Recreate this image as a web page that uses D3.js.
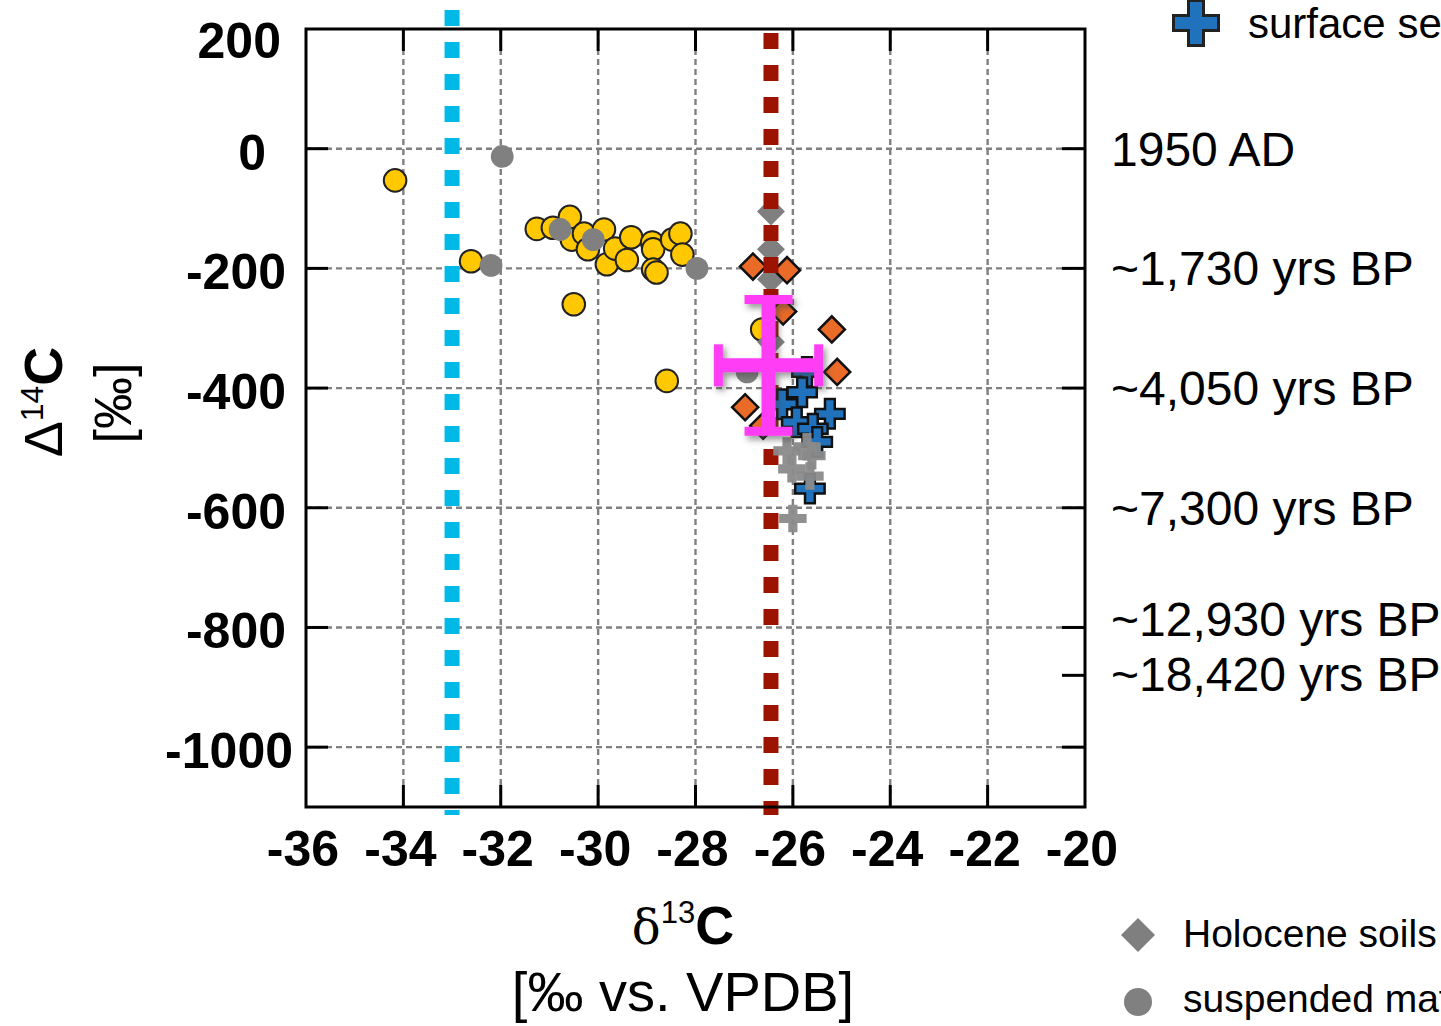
<!DOCTYPE html>
<html>
<head>
<meta charset="utf-8">
<script src="https://cdn.jsdelivr.net/npm/d3@7"></script>
<style>
  body { margin: 0; background: #fff; overflow: hidden; }
  svg { display: block; font-family: "Liberation Sans", Arial, Helvetica, sans-serif; }
</style>
</head>
<body>
<div class="chart"></div>
<script>
// δ13C / Δ14C values
const suspendedYellow = [
  [-34.17, -53], [-32.61, -188], [-30.5, -260], [-28.59, -388],
  [-31.26, -134], [-30.93, -132], [-30.58, -114], [-30.54, -152], [-30.29, -142],
  [-30.21, -168], [-29.88, -135], [-29.82, -193], [-29.65, -167], [-29.41, -186],
  [-29.32, -148], [-28.89, -157], [-28.87, -168], [-28.87, -202], [-28.8, -207],
  [-28.48, -152], [-28.31, -142], [-28.27, -177], [-26.63, -302]
];
const suspendedGray = [
  [-31.97, -13], [-32.2, -195], [-30.78, -135], [-30.1, -152], [-27.97, -200], [-26.94, -373]
];
const soilsGray = [[-26.45, -105], [-26.45, -168], [-26.45, -218], [-26.45, -323]];
const soilsOrange = [
  [-26.82, -197], [-26.12, -203], [-26.2, -272], [-25.2, -302],
  [-25.09, -373], [-26.98, -432], [-26.61, -463]
];
const sedimentsBlue = [
  [-25.71, -373], [-25.81, -407], [-26.22, -427], [-25.24, -443], [-25.92, -457],
  [-25.59, -468], [-25.5, -490], [-25.65, -568]
];
const sedimentsGray = [
  [-26.12, -505], [-25.71, -498], [-25.61, -513], [-26.02, -535], [-25.65, -547], [-26.0, -618]
];
const refLines = [{ x: -33, color: "#00b9e6" }, { x: -26.45, color: "#9c1300" }];
const meanPoint = { x: -26.5, y: -362, dx: 1.03, dy: 110 };

const xTicks = [-36, -34, -32, -30, -28, -26, -24, -22, -20];
const yTicks = [200, 0, -200, -400, -600, -800, -1000];
const ageTicks = [0, -200, -400, -600, -800, -880, -1000];
const ageLabels = ["1950 AD", "~1,730 yrs BP", "~4,050 yrs BP", "~7,300 yrs BP",
  "~12,930 yrs BP", "~18,420 yrs BP", ""];

const W = 1441, H = 1026;
const L = 306, R = 1085, T = 29, B = 807;

const x = d3.scaleLinear().domain([-36, -20]).range([L, R]);
const y = d3.scaleLinear().domain([-1100, 200]).range([B, T]);

const svg = d3.select(".chart").append("svg").attr("width", W).attr("height", H);

const defs = svg.append("defs");
defs.append("filter").attr("id", "shadow").attr("x", "-20%").attr("y", "-20%")
  .attr("width", "150%").attr("height", "150%")
  .append("feDropShadow").attr("dx", 3).attr("dy", 4).attr("stdDeviation", 3)
  .attr("flood-color", "#444").attr("flood-opacity", 0.55);

// grid
const grid = svg.append("g").attr("stroke", "#808080").attr("stroke-width", 2.4)
  .attr("stroke-dasharray", "6,4");
grid.selectAll(".gx").data(xTicks.slice(1, -1)).enter().append("line")
  .attr("x1", d => x(d)).attr("x2", d => x(d)).attr("y1", T).attr("y2", B);
grid.selectAll(".gy").data(yTicks.slice(1)).enter().append("line")
  .attr("x1", L).attr("x2", R).attr("y1", d => y(d)).attr("y2", d => y(d));

// circles
svg.append("g").selectAll("circle").data(suspendedYellow).enter().append("circle")
  .attr("cx", d => x(d[0])).attr("cy", d => y(d[1])).attr("r", 11.3)
  .attr("fill", "#ffc800").attr("stroke", "#222").attr("stroke-width", 2);
svg.append("g").selectAll("circle").data(suspendedGray).enter().append("circle")
  .attr("cx", d => x(d[0])).attr("cy", d => y(d[1])).attr("r", 11.4)
  .attr("fill", "#808080");

// diamonds
svg.append("g").selectAll("path").data(soilsGray).enter().append("path")
  .attr("d", d3.symbol(d3.symbolSquare, 392))
  .attr("transform", d => `translate(${x(d[0])},${y(d[1])}) rotate(45)`)
  .attr("fill", "#7f7f7f");
svg.append("g").selectAll("path").data(soilsOrange).enter().append("path")
  .attr("d", d3.symbol(d3.symbolSquare, 340))
  .attr("transform", d => `translate(${x(d[0])},${y(d[1])}) rotate(45)`)
  .attr("fill", "#ea6a27").attr("stroke", "#111").attr("stroke-width", 2.5);

// reference lines
svg.append("g").selectAll("line").data(refLines).enter().append("line")
  .attr("x1", d => x(d.x)).attr("x2", d => x(d.x))
  .attr("y1", (d, i) => i === 0 ? 10 : 33).attr("y2", 815)
  .attr("stroke", d => d.color).attr("stroke-width", 15)
  .attr("stroke-dasharray", "16,16");

// crosses
svg.append("g").selectAll("path").data(sedimentsBlue).enter().append("path")
  .attr("d", d3.symbol(d3.symbolCross, 480))
  .attr("transform", d => `translate(${x(d[0])},${y(d[1])})`)
  .attr("fill", "#2172bd").attr("stroke", "#111").attr("stroke-width", 2.5);
svg.append("g").selectAll("path").data(sedimentsGray).enter().append("path")
  .attr("d", d3.symbol(d3.symbolCross, 420))
  .attr("transform", d => `translate(${x(d[0])},${y(d[1])})`)
  .attr("fill", "#8a8a8a").attr("opacity", 0.95);

// mean with error bars
const eb = svg.append("g").attr("stroke", "#ff3cf5").attr("filter", "url(#shadow)")
  .attr("stroke-linecap", "butt");
const cx0 = x(meanPoint.x), cy0 = y(meanPoint.y);
eb.append("line").attr("x1", x(meanPoint.x - meanPoint.dx)).attr("x2", x(meanPoint.x + meanPoint.dx))
  .attr("y1", cy0).attr("y2", cy0).attr("stroke-width", 14);
eb.append("line").attr("x1", cx0).attr("x2", cx0)
  .attr("y1", y(meanPoint.y + meanPoint.dy)).attr("y2", y(meanPoint.y - meanPoint.dy))
  .attr("stroke-width", 14);
[meanPoint.x - meanPoint.dx, meanPoint.x + meanPoint.dx].forEach(v => {
  eb.append("line").attr("x1", x(v)).attr("x2", x(v))
    .attr("y1", cy0 - 21).attr("y2", cy0 + 21).attr("stroke-width", 9);
});
[meanPoint.y - meanPoint.dy, meanPoint.y + meanPoint.dy].forEach(v => {
  eb.append("line").attr("x1", cx0 - 24).attr("x2", cx0 + 24)
    .attr("y1", y(v)).attr("y2", y(v)).attr("stroke-width", 9);
});

// frame and inside ticks
svg.append("rect").attr("x", L).attr("y", T).attr("width", R - L).attr("height", B - T)
  .attr("fill", "none").attr("stroke", "#000").attr("stroke-width", 3);
const tk = svg.append("g").attr("stroke", "#000").attr("stroke-width", 3);
xTicks.slice(1, -1).forEach(v => {
  tk.append("line").attr("x1", x(v)).attr("x2", x(v)).attr("y1", B).attr("y2", B - 22);
  tk.append("line").attr("x1", x(v)).attr("x2", x(v)).attr("y1", T).attr("y2", T + 22);
});
yTicks.slice(1).forEach(v => {
  tk.append("line").attr("x1", L).attr("x2", L + 22).attr("y1", y(v)).attr("y2", y(v));
});
ageTicks.forEach(v => {
  tk.append("line").attr("x1", R).attr("x2", R - 23).attr("y1", y(v)).attr("y2", y(v));
});

// tick labels
svg.append("g").selectAll("text").data(xTicks).enter().append("text")
  .attr("x", d => x(d) - 3).attr("y", 866).attr("text-anchor", "middle")
  .attr("font-size", 50).attr("font-weight", "bold")
  .text(d => d);
const yLabelShift = [-5, -20, 0, 0, 0, 0, 7];
svg.append("g").selectAll("text").data(yTicks).enter().append("text")
  .attr("x", (d, i) => 286 + yLabelShift[i])
  .attr("y", d => y(d) + (d === 200 ? 29 : 21)).attr("text-anchor", "end")
  .attr("font-size", 50).attr("font-weight", "bold")
  .text(d => d);
const ageOffset = [0, 0, 0, 0, -8, -1, 0];
svg.append("g").selectAll("text").data(ageTicks).enter().append("text")
  .attr("x", 1111).attr("y", (d, i) => y(d) + 17 + ageOffset[i])
  .attr("font-size", 48)
  .text((d, i) => ageLabels[i]);

// axis titles
const yt = svg.append("text").attr("transform", "translate(62,402) rotate(-90)")
  .attr("text-anchor", "middle").attr("font-size", 54);
yt.append("tspan").text("Δ");
yt.append("tspan").attr("font-size", 32).attr("dy", -19).text("14");
yt.append("tspan").attr("font-weight", "bold").attr("dy", 19).text("C");
svg.append("text").attr("transform", "translate(131,403) rotate(-90)")
  .attr("text-anchor", "middle").attr("font-size", 52).text("[‰]");

const xt = svg.append("text").attr("x", 683).attr("y", 944).attr("text-anchor", "middle")
  .attr("font-size", 54);
xt.append("tspan").attr("font-family", "'DejaVu Serif', serif").attr("font-size", 48).text("δ");
xt.append("tspan").attr("font-size", 31).attr("dy", -21).text("13");
xt.append("tspan").attr("font-weight", "bold").attr("dy", 21).text("C");
svg.append("text").attr("x", 683).attr("y", 1011).attr("text-anchor", "middle")
  .attr("font-size", 56).text("[‰ vs. VPDB]");

// legend pieces (cut off at the window edge)
svg.append("path").attr("d", d3.symbol(d3.symbolCross, 1125))
  .attr("transform", "translate(1196,23)")
  .attr("fill", "#2172bd").attr("stroke", "#222").attr("stroke-width", 3);
svg.append("text").attr("x", 1248).attr("y", 38).attr("font-size", 42).text("surface sediments");
svg.append("path").attr("d", d3.symbol(d3.symbolSquare, 578))
  .attr("transform", "translate(1138,935) rotate(45)").attr("fill", "#7f7f7f");
svg.append("text").attr("x", 1183).attr("y", 947).attr("font-size", 39).text("Holocene soils");
svg.append("circle").attr("cx", 1138).attr("cy", 1002).attr("r", 14).attr("fill", "#808080");
svg.append("text").attr("x", 1183).attr("y", 1012).attr("font-size", 39).text("suspended matter");
</script>
</body>
</html>
